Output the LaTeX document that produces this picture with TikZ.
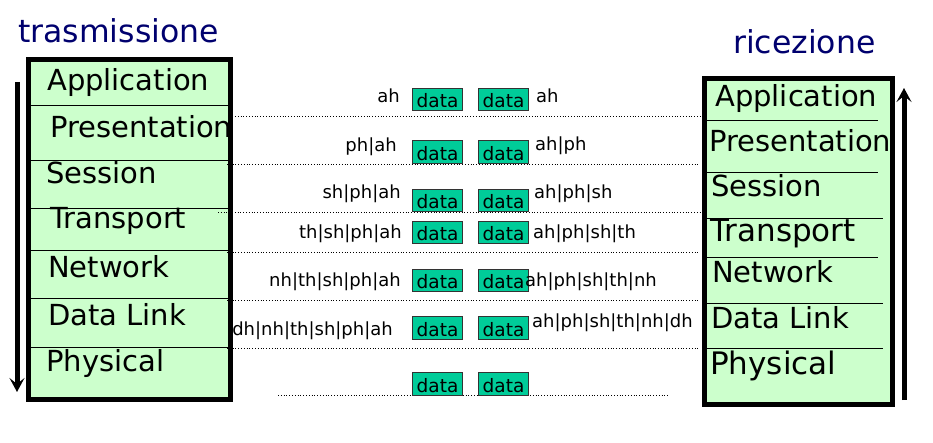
\documentclass[tikz,border=0pt]{standalone}
\usepackage{fontspec}
\setmainfont{DejaVu Sans}
\usetikzlibrary{arrows.meta}
\definecolor{boxgreen}{RGB}{204,255,204}
\definecolor{datagreen}{RGB}{0,204,153}
\definecolor{titleblue}{RGB}{0,0,110}
\begin{document}
\begin{tikzpicture}[x=1pt,y=-1pt,
  layer/.style={anchor=base west,inner sep=0pt,font=\fontsize{29}{30}\selectfont},
  biglayer/.style={layer,font=\fontsize{31}{32}\selectfont},
  title/.style={anchor=base west,inner sep=0pt,text=titleblue,font=\fontsize{31.5}{33}\selectfont},
  hdrl/.style={anchor=base east,inner sep=0pt,font=\fontsize{18}{20}\selectfont},
  hdrr/.style={anchor=base west,inner sep=0pt,font=\fontsize{18}{20}\selectfont},
  databox/.style={draw=black!80,fill=datagreen,line width=1pt,minimum width=50pt,
    text height=18.5pt,text depth=2pt,inner xsep=0pt,inner ysep=1pt,font=\fontsize{18.5}{20}\selectfont},
  stackbox/.style={fill=boxgreen},
  stackborder/.style={draw=black,line width=5pt},
  sep/.style={draw=black,line width=0.9pt},
  wire/.style={draw=black,dotted,line width=0.8pt},
  flow/.style={draw=black,line width=5pt,-{Stealth[length=14pt,width=15pt,inset=6pt]}}
]
\useasboundingbox (0,0) rectangle (933,443);

% box fills
\fill[stackbox] (28.5,59.5) rectangle (230.5,399.5);
\fill[stackbox] (704.5,78.5) rectangle (892.5,404.5);

% dotted wires
\coordinate (w1a) at (235,116); \coordinate (w1b) at (700,116);
\coordinate (w2a) at (227,164); \coordinate (w2b) at (700,164);
\coordinate (w3a) at (218,212); \coordinate (w3b) at (700,212);
\coordinate (w4a) at (227,252); \coordinate (w4b) at (700,252);
\coordinate (w5a) at (227,300); \coordinate (w5b) at (700,300);
\coordinate (w6a) at (227,348); \coordinate (w6b) at (700,348);
\coordinate (w7a) at (278,395); \coordinate (w7b) at (668,395);
\foreach \i in {1,...,7} { \draw[wire] (w\i a) -- (w\i b); }

% data boxes
\node[databox] (dl1) at (437.5,99.5) {data};  \node[databox] (dr1) at (503.5,99.5) {data};
\node[databox] (dl2) at (437.5,152) {data};   \node[databox] (dr2) at (503.5,152) {data};
\node[databox] (dl3) at (437.5,200.5) {data}; \node[databox] (dr3) at (503.5,200.5) {data};
\node[databox] (dl4) at (437.5,232.5) {data}; \node[databox] (dr4) at (503.5,232.5) {data};
\node[databox] (dl5) at (437.5,280.5) {data}; \node[databox] (dr5) at (503.5,280.5) {data};
\node[databox] (dl6) at (437.5,328) {data};   \node[databox] (dr6) at (503.5,328) {data};
\node[databox] (dl7) at (437.5,384) {data};   \node[databox] (dr7) at (503.5,384) {data};

% header labels
\node[hdrl] (hl1) at (400,103) {ah};
\node[hdrl] (hl2) at (397,152) {ph|ah};
\node[hdrl] (hl3) at (401,199) {sh|ph|ah};
\node[hdrl] (hl4) at (402,239) {th|sh|ph|ah};
\node[hdrl] (hl5) at (401,287) {nh|th|sh|ph|ah};
\node[hdrl] (hl6) at (393,335) {dh|nh|th|sh|ph|ah};
\node[hdrr] (hr1) at (536,103) {ah};
\node[hdrr] (hr2) at (535,151) {ah|ph};
\node[hdrr] (hr3) at (534,199) {ah|ph|sh};
\node[hdrr] (hr4) at (533,239) {ah|ph|sh|th};
\node[hdrr] (hr5) at (525,287) {ah|ph|sh|th|nh};
\node[hdrr] (hr6) at (532,327) {ah|ph|sh|th|nh|dh};

% left stack separators
\foreach \y in {105,160,208,250,298,347} { \draw[sep] (29,\y) -- (230,\y); }
% right stack separators
\draw[sep] (706,120) -- (878,120);
\draw[sep] (706,172) -- (878,172);
\draw[sep] (706,218) -- (883,218);
\draw[sep] (706,257) -- (878,257);
\draw[sep] (706,303) -- (883,303);
\draw[sep] (706,348) -- (883,348);

% left layers
\node[layer] (lapp) at (47,91) {Application};
\node[layer] (lpre) at (50,138) {Presentation};
\node[layer] (lses) at (46,184) {Session};
\node[layer] (ltra) at (50,229) {Transport};
\node[layer] (lnet) at (48,278) {Network};
\node[layer] (ldl)  at (48,325) {Data Link};
\node[layer] (lphy) at (46,371) {Physical};

% right layers
\node[layer] (rapp) at (715,107) {Application};
\node[layer] (rpre) at (709,152) {Presentation};
\node[layer] (rses) at (711,197) {Session};
\node[biglayer] (rtra) at (710,242) {Transport};
\node[layer] (rnet) at (712,283) {Network};
\node[layer] (rdl)  at (711,328) {Data Link};
\node[biglayer] (rphy) at (710,374) {Physical};

% box borders
\draw[stackborder] (28.5,59.5) rectangle (230.5,399.5);
\draw[stackborder] (704.5,78.5) rectangle (892.5,404.5);

% titles
\node[title] (ttx) at (18,43) {trasmissione};
\node[title] (trx) at (733,54) {ricezione};

% flow arrows
\coordinate (la) at (17,82); \coordinate (lb) at (17,392);
\coordinate (ra) at (904,400); \coordinate (rb) at (904,88);
\draw[flow] (la) -- (lb);
\draw[flow] (ra) -- (rb);
\end{tikzpicture}
\end{document}
